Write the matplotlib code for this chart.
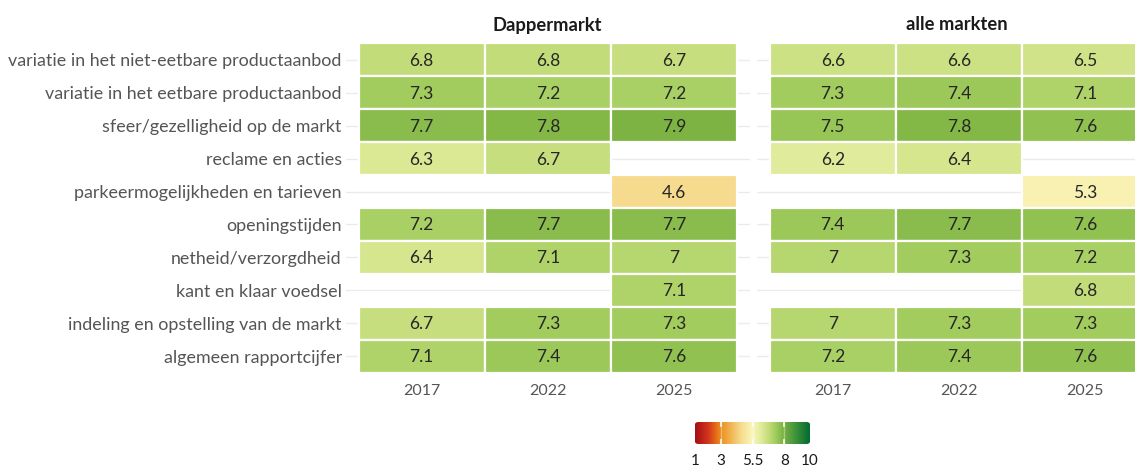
import numpy as np
import matplotlib
matplotlib.use("Agg")
import matplotlib.pyplot as plt
from matplotlib.colors import LinearSegmentedColormap, Normalize
from matplotlib.patches import Rectangle, FancyBboxPatch

# ---------------- data ----------------
items = [
    "variatie in het niet-eetbare productaanbod",
    "variatie in het eetbare productaanbod",
    "sfeer/gezelligheid op de markt",
    "reclame en acties",
    "parkeermogelijkheden en tarieven",
    "openingstijden",
    "netheid/verzorgdheid",
    "kant en klaar voedsel",
    "indeling en opstelling van de markt",
    "algemeen rapportcijfer",
]
years = ["2017", "2022", "2025"]
panels = ["Dappermarkt", "alle markten"]

dapper_2017 = [6.8, 7.3, 7.7, 6.3, None, 7.2, 6.4, None, 6.7, 7.1]
dapper_2022 = [6.8, 7.2, 7.8, 6.7, None, 7.7, 7.1, None, 7.3, 7.4]
dapper_2025 = [6.7, 7.2, 7.9, None, 4.6, 7.7, 7.0, 7.1, 7.3, 7.6]
alle_2017 = [6.6, 7.3, 7.5, 6.2, None, 7.4, 7.0, None, 7.0, 7.2]
alle_2022 = [6.6, 7.4, 7.8, 6.4, None, 7.7, 7.3, None, 7.3, 7.4]
alle_2025 = [6.5, 7.1, 7.6, None, 5.3, 7.6, 7.2, 6.8, 7.3, 7.6]

legend_ticks = [1, 3, 5.5, 8, 10]

# ---------------- colours ----------------
anchors = [
    (1.0, "#a50f15"),
    (2.0, "#d4331c"),
    (3.0, "#ec8f1a"),
    (4.6, "#f6db8e"),
    (5.5, "#f9f7bb"),
    (6.2, "#e0eb9a"),
    (6.8, "#c2dc79"),
    (7.3, "#a3cd5f"),
    (7.9, "#7db443"),
    (8.0, "#77b041"),
    (9.0, "#3a8f3a"),
    (10.0, "#006b30"),
]
cmap = LinearSegmentedColormap.from_list(
    "score", [((v - 1) / 9, c) for v, c in anchors])
norm = Normalize(1, 10)

FONT = "Lato"
plt.rcParams["font.family"] = [FONT, "DejaVu Sans"]

W, H = 1135, 467
fig = plt.figure(figsize=(W / 100, H / 100), dpi=100)

def fx(px):
    return px / W

def fy(py):
    return 1 - py / H

ax_top, ax_bot = 40, 376
panel_left = [346, 757]
panel_w = 404
title_x = [547, 957]

data = {
    "Dappermarkt": [dapper_2017, dapper_2022, dapper_2025],
    "alle markten": [alle_2017, alle_2022, alle_2025],
}

for pi, pname in enumerate(panels):
    ax = fig.add_axes([fx(panel_left[pi]), fy(ax_bot), fx(panel_w),
                       (ax_bot - ax_top) / H])
    ax.set_xlim(-0.6, 2.6)
    ax.set_ylim(len(items) - 0.4, -0.6)
    for s in ax.spines.values():
        s.set_visible(False)
    for r in range(len(items)):
        ax.axhline(r, color="#ebebeb", lw=1.0, zorder=0)
    for ci, col in enumerate(data[pname]):
        for r, v in enumerate(col):
            if v is None:
                continue
            ax.add_patch(Rectangle((ci - 0.5, r - 0.5), 1, 1,
                                   facecolor=cmap(norm(v)), edgecolor="white",
                                   lw=1.6, zorder=2))
            txt = f"{v:g}"
            ax.text(ci, r + 0.03, txt, ha="center", va="center",
                    fontsize=12.5, color="#262626", zorder=3)
    ax.set_xticks(range(len(years)))
    ax.set_xticklabels(years, fontsize=11.5, color="#555555")
    ax.tick_params(axis="x", length=0, pad=6)
    ax.set_yticks(range(len(items)))
    if pi == 0:
        ax.set_yticklabels(items, fontsize=12.9, color="#555555")
        ax.tick_params(axis="y", length=0, pad=3)
    else:
        ax.set_yticklabels([])
        ax.tick_params(axis="y", length=0)
    ax.set_facecolor("none")
    fig.text(fx(title_x[pi]), fy(25), pname, ha="center", va="center",
             fontsize=13.2, fontweight="bold", color="#1a1a1a")

# ---------------- colour bar legend ----------------
cb_l, cb_r, cb_t, cb_b = 695, 810, 422, 444
cax = fig.add_axes([fx(cb_l), fy(cb_b), fx(cb_r - cb_l), (cb_b - cb_t) / H])
cax.set_xlim(1, 10)
cax.set_ylim(0, 1)
grad = np.linspace(1, 10, 400).reshape(1, -1)
im = cax.imshow(grad, cmap=cmap, norm=norm, aspect="auto",
                extent=(1, 10, 0, 1))
clip = FancyBboxPatch((1.0, 0.0), 9.0, 1.0,
                      boxstyle="round,pad=0,rounding_size=0.25",
                      mutation_aspect=1 / 2.2,
                      transform=cax.transData, facecolor="none",
                      edgecolor="none")
cax.add_patch(clip)
im.set_clip_path(clip)
for t in legend_ticks[1:-1]:
    cax.axvline(t, color="white", lw=1.0, alpha=0.35)
    cax.plot([t, t], [0, 0.2], color="white", lw=1.2)
    cax.plot([t, t], [0.8, 1], color="white", lw=1.2)
for s in cax.spines.values():
    s.set_visible(False)
cax.set_yticks([])
cax.set_xticks(legend_ticks)
cax.set_xticklabels([f"{t:g}" for t in legend_ticks], fontsize=11,
                    color="#1a1a1a")
cax.tick_params(axis="x", length=0, pad=7)

fig.savefig("out.png", dpi=100)
